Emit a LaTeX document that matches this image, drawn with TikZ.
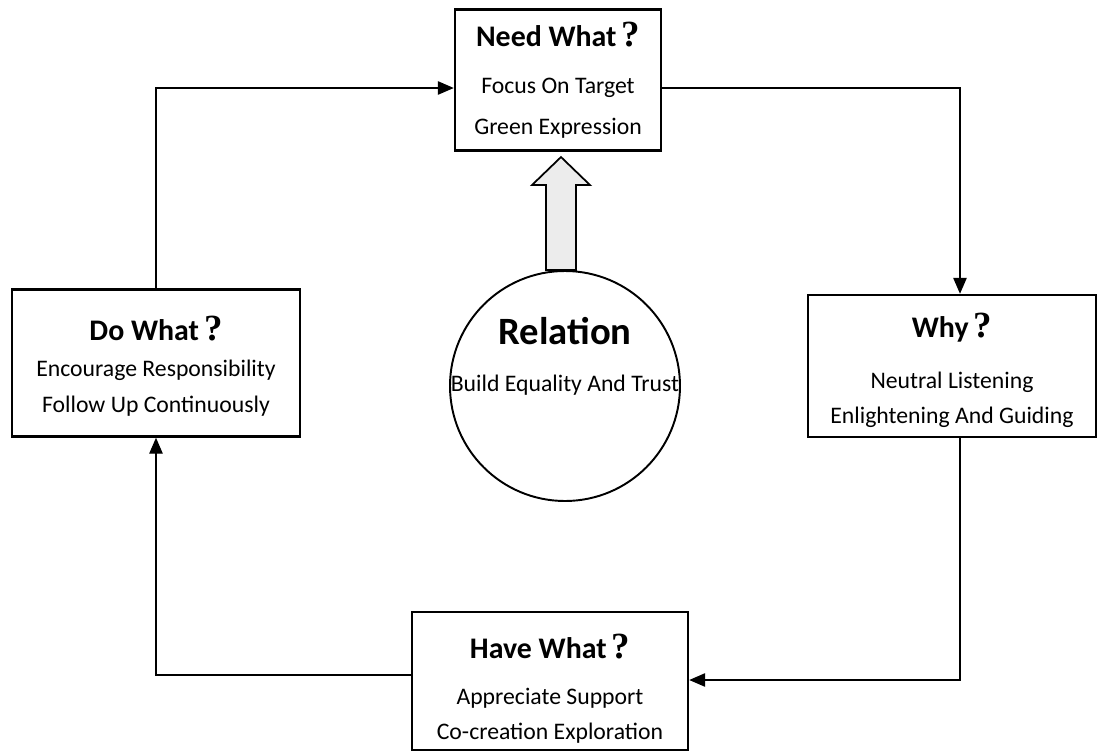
\documentclass[tikz,border=0pt]{standalone}
\usepackage{fontspec}
\setmainfont{Carlito}
\newfontfamily\qfont{Liberation Serif}
\usepackage{tikz}
\usetikzlibrary{arrows.meta, positioning, calc}

\newcommand{\ttl}[2][0pt]{{\rule{0pt}{#1}\fontsize{17}{20}\selectfont\bfseries #2\,{\qfont\fontsize{21}{20}\selectfont\bfseries ?}}}

\begin{document}
\begin{tikzpicture}[
  box/.style={draw, line width=1.4pt, minimum width=#1, align=center, inner sep=0pt},
  flow/.style={line width=0.7pt, -{Triangle[length=0.32cm, width=0.27cm]}},
  font=\fontsize{13.5}{16}\selectfont
]
\useasboundingbox (0,0) rectangle (22.04,-15.06);

\node (need) at (11.16,-1.60) [box=4.12cm, minimum height=2.82cm] {\ttl{Need What}\\[11pt] Focus On Target\\[7pt] Green Expression};
\node (do) at (3.12,-7.26) [box=5.76cm, minimum height=2.94cm] {\ttl[17pt]{Do What}\\[5pt] Encourage Responsibility\\[4pt] Follow Up Continuously};
\node (why) at (19.04,-7.32) [box=5.76cm, minimum height=2.84cm] {\ttl[19pt]{Why}\\[13pt] Neutral Listening\\[4pt] Enlightening And Guiding};
\node (have) at (11.0,-13.62) [box=5.52cm, minimum height=2.76cm] {\ttl[23pt]{Have What}\\[10pt] Appreciate Support\\[4pt] Co-creation Exploration};

\node (rel) at (11.30,-7.72) [draw, circle, line width=1.1pt, minimum size=4.6cm] {};
\node (relT) at (11.30,-6.62) {\fontsize{22}{26}\selectfont\bfseries Relation};
\node (relB) at (11.30,-7.70) {Build Equality And Trust};

% block arrow from the relation circle up to the top box
\draw[line width=1pt, fill=gray!15] ($(rel.north)+(-0.38,0)$) -- ++(0,1.70)
  -- ++(-0.28,0) -- ++(0.58,0.56) -- ++(0.58,-0.56) -- ++(-0.28,0) -- ++(0,-1.70) -- cycle;

\coordinate (c1) at (3.12,-1.76);
\coordinate (c2) at (19.2,-1.76);
\coordinate (c3) at (19.2,-13.6);
\coordinate (c4) at (3.12,-13.5);

\draw[flow] (do.north) -- (c1) -- (need.west |- c1);
\draw[flow] (need.east |- c2) -- (c2) -- (c2 |- why.north);
\draw[flow] (c2 |- why.south) -- (c3) -- (have.east |- c3);
\draw[flow] (have.west |- c4) -- (c4) -- (do.south);
\end{tikzpicture}
\end{document}
